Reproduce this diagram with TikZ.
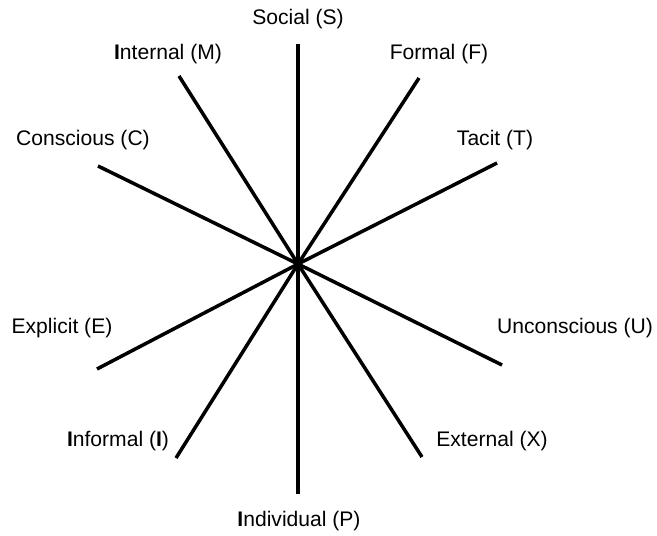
\documentclass[tikz,border=0pt]{standalone}
\usepackage{fontspec}
\setmainfont{Liberation Sans}
\tikzset{
  spoke/.style={line width=3pt},
  lbl/.style={font=\fontsize{18}{20}\selectfont, inner sep=0pt}
}
\begin{document}
\begin{tikzpicture}[x=0.03cm,y=-0.03cm]
\useasboundingbox (0,0) rectangle (657,535);
\begin{scope}
\coordinate (o) at (298,264);
% ends of the spokes
\coordinate (S) at (298,44);
\coordinate (P) at (298,494);
\coordinate (F) at (419,78);
\coordinate (I) at (176,458);
\coordinate (T) at (497,163);
\coordinate (E) at (97,369);
\coordinate (U) at (502,365);
\coordinate (C) at (98,166);
\coordinate (X) at (422,457);
\coordinate (M) at (179,76);
\foreach \e in {S,P,F,I,T,E,U,C,X,M}
  \draw[spoke] (o) -- (\e);
% labels
\node[lbl] (lS) at (298,19) {Social (S)};
\node[lbl] (lM) at (168,54) {\textbf{I}nternal (M)};
\node[lbl] (lF) at (439,54) {Formal (F)};
\node[lbl] (lC) at (83,140) {Conscious (C)};
\node[lbl] (lT) at (495,140) {Tacit (T)};
\node[lbl] (lE) at (62,328) {Explicit (E)};
\node[lbl] (lU) at (575,328) {Unconscious (U)};
\node[lbl] (lI) at (118,441) {\textbf{I}nformal (\textbf{I})};
\node[lbl] (lX) at (492,441) {External (X)};
\node[lbl] (lP) at (299,521) {\textbf{I}ndividual (P)};
\end{scope}
\end{tikzpicture}
\end{document}
